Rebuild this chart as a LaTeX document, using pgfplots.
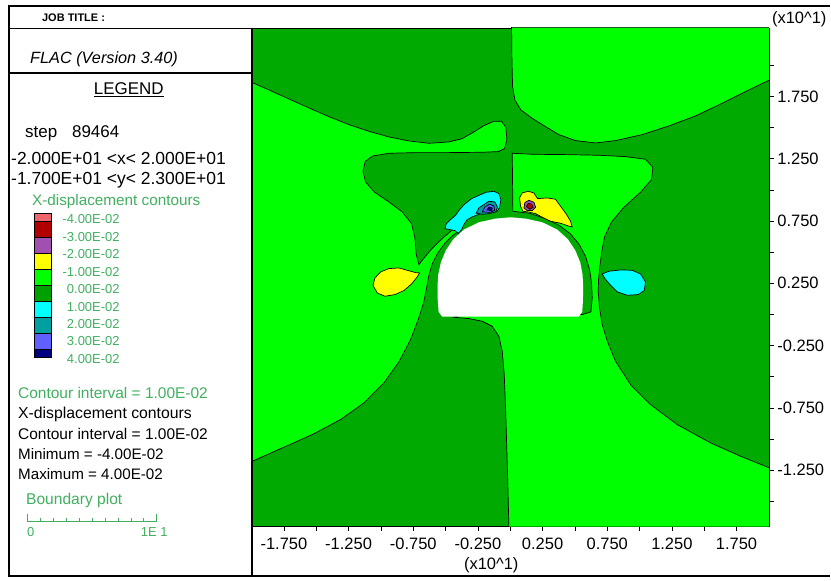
\documentclass[border=0pt]{standalone}
\usepackage{fontspec}
\setmainfont{Liberation Sans}
\usepackage{pgfplots}
\pgfplotsset{compat=1.18}
\definecolor{lg}{RGB}{0,255,0}
\definecolor{dg}{RGB}{0,170,0}
\definecolor{ye}{RGB}{255,255,0}
\definecolor{cy}{RGB}{0,255,255}
\definecolor{te}{RGB}{0,160,160}
\definecolor{bl}{RGB}{96,96,255}
\definecolor{nv}{RGB}{0,0,128}
\definecolor{pk}{RGB}{240,100,110}
\definecolor{dr}{RGB}{176,0,0}
\definecolor{pu}{RGB}{160,80,176}
\definecolor{tg}{RGB}{64,176,96}
\definecolor{sg}{RGB}{0,160,0}
\pgfplotsset{table/pxmap/.style={x expr=(\thisrowno{0}-784)/388, y expr=2.3-(\thisrowno{1}-10)/373.75}}
\newcommand\fs[1]{\fontsize{#1}{#1}\selectfont}
\begin{document}
\begin{tikzpicture}
\begin{scope}[x=1pt,y=-1pt]
\path[use as bounding box] (0,0) rectangle (831,581);
\end{scope}
\begin{axis}[
 at={(252pt,-28pt)}, anchor=north west,
 scale only axis, width=518pt, height=499pt,
 xmin=-2, xmax=2, ymin=-1.7, ymax=2.3,
 axis background/.style={fill=dg},
 axis line style={black, line width=0.6pt},
 xtick={-1.75,-1.25,-0.75,-0.25,0.25,0.75,1.25,1.75},
 xticklabels={-1.750,-1.250,-0.750,-0.250,0.250,0.750,1.250,1.750},
 minor xtick={-1.5,-1,-0.5,0,0.5,1,1.5},
 ytick={-1.25,-0.75,-0.25,0.25,0.75,1.25,1.75},
 yticklabels={-1.250,-0.750,-0.250,0.250,0.750,1.250,1.750},
 minor ytick={-1.5,-1,-0.5,0,0.5,1,1.5,2},
 xtick pos=bottom, ytick pos=right, yticklabel pos=right,
 tick align=outside, major tick length=5pt, minor tick length=5pt,
 every tick/.style={black, line width=0.6pt},
 tick label style={font=\fs{16.5}},
 xticklabel style={yshift=-3pt},
 cl/.style={draw=black, line width=0.7pt},
]
% top-right light green
\addplot[cl, fill=lg] table[pxmap] {
788 8
1562 8
1562 166
1500 196
1420 236
1340 274
1260 304
1180 330
1100 348
1040 355
980 348
930 330
890 306
850 281
816 256
798 226
791 185
789 100
} -- cycle;
% left light green
\addplot[cl, fill=lg] table[pxmap] {
6 172
60 196
120 223
180 250
240 276
300 300
360 320
420 337
480 349
540 356
600 352
640 342
675 322
705 303
735 290
758 290
771 308
774 345
767 372
748 381
700 383
600 384
500 384
420 386
372 394
349 410
342 440
350 472
376 502
420 532
460 562
488 597
498 640
502 690
510 720
527 698
553 668
582 640
608 618
626 604
640 612
612 632
588 656
566 686
550 718
540 752
534 785
524 835
508 885
485 945
450 1012
405 1075
345 1135
275 1185
190 1230
100 1270
6 1312
} -- cycle;
% centre-right and bottom light green
\addplot[cl, fill=lg] table[pxmap] {
790 386
850 389
950 390
1050 392
1130 396
1190 404
1212 428
1208 465
1175 503
1125 548
1088 592
1067 637
1058 685
1053 725
1049 765
1048 800
1052 850
1060 900
1075 950
1100 1010
1145 1080
1205 1140
1285 1200
1385 1255
1475 1295
1562 1330
1562 1507
780 1507
776 1350
773 1250
770 1150
766 1050
760 980
750 935
730 905
700 890
660 882
615 878
640 870
1000 870
1026 862
1030 820
1028 775
1022 735
1010 695
990 658
965 628
932 603
890 582
842 566
792 560
} -- cycle;
% cyan top-left blob
\addplot[cl, fill=cy] table[pxmap] {
588 612
592 598
605 585
620 572
632 555
648 538
668 522
690 512
712 503
735 500
750 507
756 525
752 548
745 560
725 565
705 562
688 570
672 576
655 585
645 600
638 615
628 627
618 618
} -- cycle;
\addplot[cl, fill=te] table[pxmap] {
682 566
690 550
705 540
720 530
738 532
746 548
740 562
720 567
700 569
} -- cycle;
\addplot[cl, fill=bl] table[pxmap] {
700 562
708 547
722 539
735 544
737 557
725 563
} -- cycle;
\addplot[cl, fill=nv] table[pxmap] {
714 556
720 548
730 550
729 558
} -- cycle;
% yellow top-right blob
\addplot[cl, fill=ye] table[pxmap] {
815 545
812 520
820 505
838 500
855 505
866 522
895 520
920 524
935 545
952 568
965 590
970 607
958 604
935 596
905 590
880 578
860 567
838 562
822 560
} -- cycle;
\addplot[cl, fill=pu] table[pxmap] {
825 550
828 534
840 527
855 533
860 548
850 558
835 558
} -- cycle;
\addplot[cl, fill=dr] table[pxmap] {
832 546
838 537
848 538
853 548
843 554
} -- cycle;
% yellow left blob
\addplot[cl, fill=ye] table[pxmap] {
372 782
378 760
395 742
420 732
450 730
478 738
500 744
512 745
505 757
488 778
465 798
438 810
408 815
385 805
} -- cycle;
% cyan right blob
\addplot[cl, fill=cy] table[pxmap] {
1060 748
1080 740
1115 736
1150 737
1175 748
1190 772
1186 798
1168 810
1135 812
1105 802
1085 782
1068 762
} -- cycle;
% tunnel
\addplot[draw=none, fill=white] table[pxmap] {
580 876
569 862
566 820
566 780
568 750
576 713
591 677
613 644
645 615
690 593
740 582
785 578
830 582
880 593
925 615
957 644
979 677
994 713
1001 750
1003 790
1002 830
1000 862
990 876
} -- cycle;
\end{axis}
\begin{scope}[x=1pt,y=-1pt]
% frame
\draw[line width=2.5pt] (9,6) -- (831,6);
\draw[line width=2.5pt] (9,4.75) -- (9,578.25);
\draw[line width=2.5pt] (9,577) -- (831,577);
\draw[line width=0.8pt] (9,28) -- (252,28);
\draw[line width=2pt] (9,73) -- (252,73);
\draw[line width=2pt] (252,28) -- (252,577);
% header texts
\node[anchor=base west, inner sep=0, font=\fs{11}\bfseries] at (42,22) {JOB TITLE :};
\node[anchor=base west, inner sep=0, font=\fs{16.3}\itshape] at (30,64) {FLAC (Version 3.40)};
\node[anchor=base, inner sep=0, font=\fs{17}] at (129,95) {\underline{LEGEND}};
\node[anchor=base west, inner sep=0, font=\fs{17}] at (25,138) {step};
\node[anchor=base west, inner sep=0, font=\fs{17}] at (72,138) {89464};
\node[anchor=base west, inner sep=0, font=\fs{17.5}] at (11,165) {-2.000E+01 <x< 2.000E+01};
\node[anchor=base west, inner sep=0, font=\fs{17.5}] at (11,185) {-1.700E+01 <y< 2.300E+01};
\node[anchor=base west, inner sep=0, font=\fs{15.3}, text=tg] at (32,206) {X-displacement contours};
% swatches
\fill[pk] (34,214) rectangle (51,222);
\fill[dr] (34,222) rectangle (51,238);
\fill[pu] (34,238) rectangle (51,254);
\fill[ye] (34,254) rectangle (51,270);
\fill[lg] (34,270) rectangle (51,286);
\fill[sg] (34,286) rectangle (51,302);
\fill[cy] (34,302) rectangle (51,318);
\fill[te] (34,318) rectangle (51,334);
\fill[bl] (34,334) rectangle (51,350);
\fill[nv] (34,350) rectangle (51,358);
\draw[line width=0.6pt] (34,214) rectangle (51,358);
\foreach \yy in {222,238,254,270,286,302,318,334,350} {\draw[line width=0.4pt] (34,\yy) -- (51,\yy);}
\foreach \lab/\yy in {-4.00E-02/224,-3.00E-02/241.5,-2.00E-02/259,-1.00E-02/276.5,0.00E-02/294,1.00E-02/311.5,2.00E-02/329,3.00E-02/346.5,4.00E-02/364}
 {\node[anchor=base east, inner sep=0, font=\fs{13}, text=tg] at (120,\yy) {\lab};}
\node[anchor=base west, inner sep=0, font=\fs{15.5}, text=tg] at (18,399) {Contour interval = 1.00E-02};
\node[anchor=base west, inner sep=0, font=\fs{15.8}] at (18,419) {X-displacement contours};
\node[anchor=base west, inner sep=0, font=\fs{15.5}] at (18,440) {Contour interval = 1.00E-02};
\node[anchor=base west, inner sep=0, font=\fs{15.2}] at (18,460) {Minimum = -4.00E-02};
\node[anchor=base west, inner sep=0, font=\fs{15.2}] at (18,480) {Maximum = 4.00E-02};
\node[anchor=base west, inner sep=0, font=\fs{15.6}, text=tg] at (26,505) {Boundary plot};
\draw[tg, line width=0.8pt] (27,515) -- (27,522) -- (157,522) -- (157,515);
\foreach \i in {1,...,9} {\draw[tg, line width=0.6pt] (27+13*\i,522) -- (27+13*\i,519);}
\node[anchor=base west, inner sep=0, font=\fs{13}, text=tg] at (27,537) {0};
\node[anchor=base east, inner sep=0, font=\fs{13}, text=tg] at (168,537) {1E 1};
% axis multipliers
\node[anchor=base, inner sep=0, font=\fs{16.5}] at (492,570) {(x10\textasciicircum 1)};
\node[anchor=base west, inner sep=0, font=\fs{16.5}] at (773,24) {(x10\textasciicircum 1)};
\end{scope}
\end{tikzpicture}
\end{document}
